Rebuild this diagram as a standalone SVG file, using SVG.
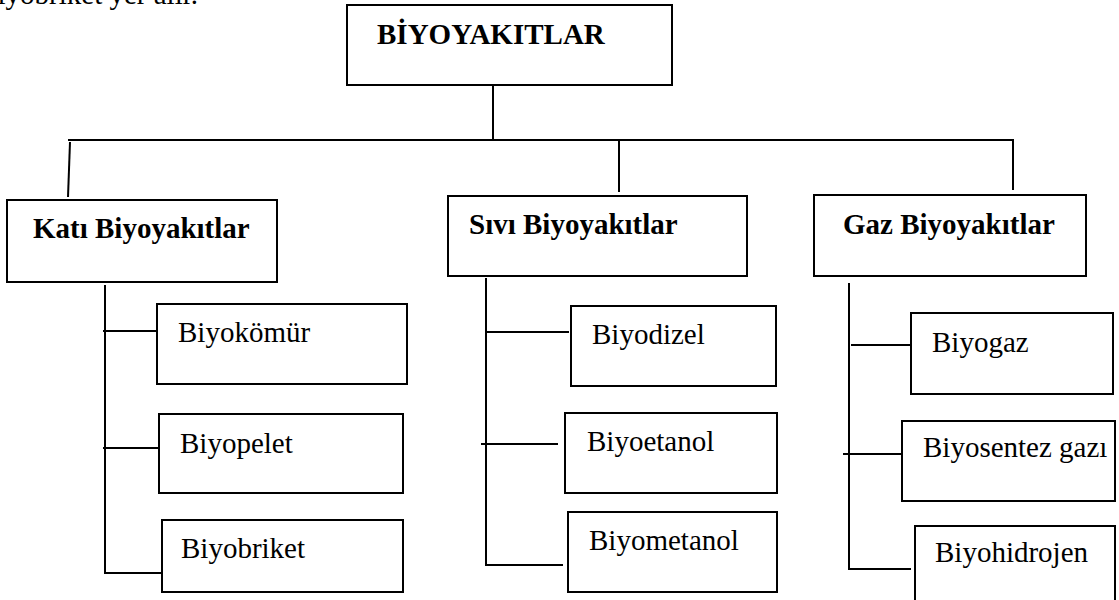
<svg xmlns="http://www.w3.org/2000/svg" width="1119" height="600" viewBox="0 0 1119 600">
<style>
.box{fill:#fff;stroke:#000;stroke-width:2}
.ln{stroke:#000;stroke-width:2;fill:none}
.b{font-family:"Liberation Serif","Times New Roman",serif;font-weight:bold;font-size:29px;fill:#000}
.r{font-family:"Liberation Serif","Times New Roman",serif;font-size:29px;fill:#000}
</style>
<rect width="1119" height="600" fill="#fff"/>
<text class="r" x="-17" y="4" font-size="32">biyobriket yer alır.</text>
<g id="connectors">
<line class="ln" x1="493" y1="85" x2="493" y2="141"/>
<line class="ln" x1="68" y1="140" x2="1014" y2="140"/>
<line class="ln" x1="70" y1="142" x2="68" y2="197"/>
<line class="ln" x1="619" y1="140" x2="619" y2="192"/>
<line class="ln" x1="1013" y1="140" x2="1013" y2="190"/>
<polyline class="ln" points="105,285 105,573 167,573"/>
<line class="ln" x1="103" y1="331" x2="157" y2="331"/>
<line class="ln" x1="103" y1="448" x2="163" y2="448"/>
<polyline class="ln" points="486,278 486,565 563,565"/>
<line class="ln" x1="486" y1="332" x2="569" y2="332"/>
<line class="ln" x1="481" y1="444" x2="558" y2="444"/>
<polyline class="ln" points="849,283 849,569 911,569"/>
<line class="ln" x1="851" y1="345" x2="912" y2="345"/>
<line class="ln" x1="843" y1="454" x2="903" y2="454"/>
</g>
<g id="root"><rect class="box" x="347" y="5" width="325" height="80"/><text class="b" x="377" y="44" font-size="31">BİYOYAKITLAR</text></g>
<g id="kati"><rect class="box" x="7" y="200" width="270" height="82"/><text class="b" x="33" y="238">Katı Biyoyakıtlar</text></g>
<g id="sivi"><rect class="box" x="448" y="196" width="299" height="80"/><text class="b" x="469" y="234">Sıvı Biyoyakıtlar</text></g>
<g id="gaz"><rect class="box" x="814" y="195" width="272" height="81"/><text class="b" x="843" y="234">Gaz Biyoyakıtlar</text></g>
<g id="biyokomur"><rect class="box" x="157" y="304" width="250" height="80"/><text class="r" x="178" y="342">Biyokömür</text></g>
<g id="biyopelet"><rect class="box" x="159" y="414" width="244" height="79"/><text class="r" x="180" y="453">Biyopelet</text></g>
<g id="biyobriket"><rect class="box" x="162" y="520" width="241" height="72"/><text class="r" x="181" y="558">Biyobriket</text></g>
<g id="biyodizel"><rect class="box" x="571" y="306" width="205" height="80"/><text class="r" x="592" y="344">Biyodizel</text></g>
<g id="biyoetanol"><rect class="box" x="565" y="413" width="212" height="80"/><text class="r" x="587" y="451">Biyoetanol</text></g>
<g id="biyometanol"><rect class="box" x="568" y="512" width="209" height="80"/><text class="r" x="589" y="550">Biyometanol</text></g>
<g id="biyogaz"><rect class="box" x="911" y="313" width="202" height="81"/><text class="r" x="932" y="352">Biyogaz</text></g>
<g id="biyosentez"><rect class="box" x="902" y="421" width="213" height="80"/><text class="r" x="923" y="457" font-size="26.5">Biyosentez gazı</text></g>
<g id="biyohidrojen"><rect class="box" x="915" y="526" width="200" height="90"/><text class="r" x="935" y="562">Biyohidrojen</text></g>
</svg>
